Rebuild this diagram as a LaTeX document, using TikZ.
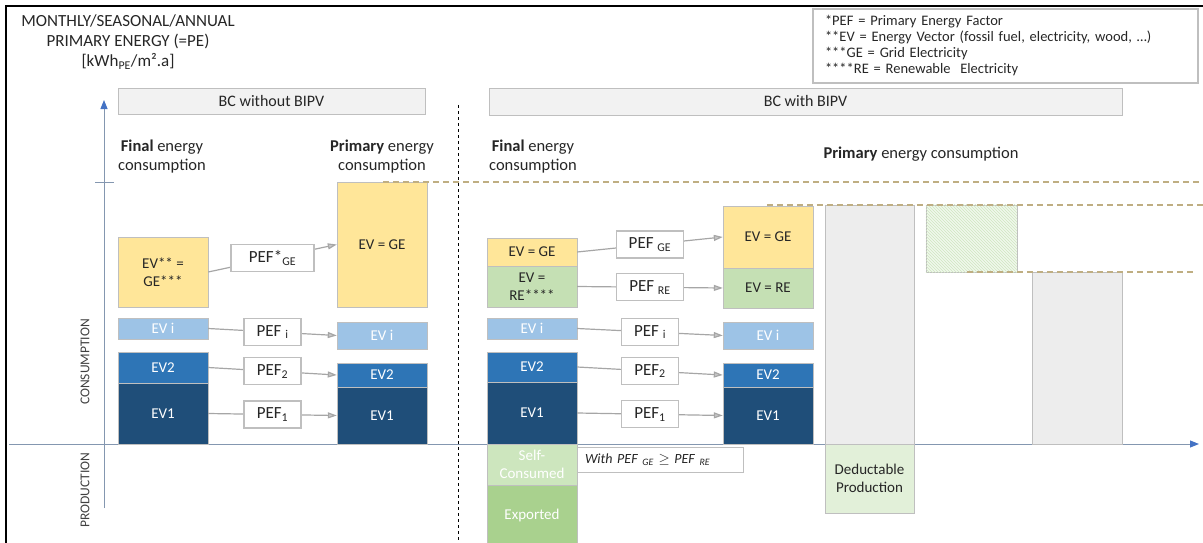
\documentclass[tikz,border=0pt]{standalone}
\usepackage{fontspec}
\setmainfont{Carlito}
\usetikzlibrary{arrows.meta,patterns}
\definecolor{evyellow}{HTML}{FFE699}
\definecolor{evgreen}{HTML}{C5E0B4}
\definecolor{evlight}{HTML}{9DC3E6}
\definecolor{evblue}{HTML}{2E75B6}
\definecolor{evdark}{HTML}{1F4E79}
\definecolor{selfgreen}{HTML}{CDE6BE}
\definecolor{expgreen}{HTML}{A9D18E}
\definecolor{dedgreen}{HTML}{E2F0D9}
\definecolor{bargray}{HTML}{EDEDED}
\definecolor{hdrgray}{HTML}{F2F2F2}
\definecolor{barline}{HTML}{BFBFBF}
\definecolor{flowgray}{HTML}{A6A6A6}
\definecolor{tipgray}{HTML}{C8C8C8}
\definecolor{refline}{HTML}{BFAE82}
\definecolor{axisgray}{HTML}{8497B0}
\definecolor{axisblue}{HTML}{4472C4}
\definecolor{txtdark}{HTML}{262626}

\begin{document}
\begin{tikzpicture}[x=1pt, y=-1pt, font=\fontsize{16.5}{19}\selectfont, text=txtdark,
  bar/.style={draw=barline, minimum width=90, inner sep=0, align=center, font=\fontsize{15}{18}\selectfont},
  pef/.style={draw=barline, fill=white, minimum height=27, inner sep=0, font=\fontsize{17}{20}\selectfont},
  flow/.style={draw=flowgray, line width=1.2, -{Triangle[length=9pt,width=6pt,fill=tipgray]}},
  hdr/.style={draw=barline, fill=hdrgray, inner sep=0, font=\fontsize{16}{19}\selectfont},
  graybar/.style={draw=barline, fill=bargray, inner sep=0},
  ref/.style={draw=refline, dash pattern=on 6pt off 4pt, line width=1.3},
  axis/.style={draw=axisgray, line width=1, -{Triangle[length=9pt,width=7pt,color=axisblue]}},
  side/.style={rotate=90, font=\fontsize{13.5}{16}\selectfont, text=black!75}]
  \useasboundingbox (0,0) rectangle (1203,543);
  \draw[line width=2] (6,543) -- (6,6) -- (1203,6);

  \node[align=center, font=\fontsize{17}{20}\selectfont] (title) at (128,42) {MONTHLY/SEASONAL/ANNUAL\\PRIMARY ENERGY (=PE)\\{}[kWh\textsubscript{PE}/m²{.}a]};
  \node[draw=barline, line width=1.2, minimum width=385, minimum height=74, text width=361, inner xsep=12, align=left,
    font=\fontsize{14.5}{16}\selectfont] (legend) at (1005.5,46)
    {*PEF = Primary Energy Factor\\{}**EV = Energy Vector (fossil fuel, electricity, wood, …)\\{}***GE = Grid Electricity\\{}****RE = Renewable\ \ Electricity};

  \node[hdr, minimum width=307, minimum height=26] (hdrA) at (271.5,101) {BC without BIPV};
  \node[hdr, minimum width=633, minimum height=27] (hdrB) at (805.5,101.5) {BC with BIPV};

  % axes
  \coordinate (o) at (104,508);
  \coordinate (ytop) at (104,100);
  \coordinate (xl) at (9,444);
  \coordinate (xr) at (1199,444);
  \coordinate (tl) at (95,182);
  \coordinate (tr) at (114,182);
  \draw[axis] (o) -- (ytop);
  \draw[axis] (xl) -- (xr);
  \draw[draw=axisgray] (tl) -- (tr);
  \node[side] (cons) at (85,362) {CONSUMPTION};
  \node[side] (prod) at (85,490) {PRODUCTION};

  \coordinate (sepT) at (458,105);
  \coordinate (sepB) at (458,543);
  \draw[dashed, line width=1] (sepT) -- (sepB);

  \node[align=center] (finA) at (162,157) {\textbf{Final} energy\\consumption};
  \node[align=center] (priA) at (382,157) {\textbf{Primary} energy\\consumption};
  \node[align=center] (finB) at (533,157) {\textbf{Final} energy\\consumption};
  \node (priB) at (921,154) {\textbf{Primary} energy consumption};

  % BC without BIPV
  \node[bar, fill=evyellow, minimum height=70] (fge) at (163,272) {EV** =\\GE***};
  \node[bar, fill=evlight, minimum height=21, text=white] (fi) at (163,328.5) {EV i};
  \node[bar, fill=evblue, minimum height=31, text=white] (f2) at (163,367.5) {EV2};
  \node[bar, fill=evdark, minimum height=61, text=white] (f1) at (163,413.5) {EV1};
  \node[bar, fill=evyellow, minimum height=125] (pge) at (382,244.5) {EV = GE};
  \node[bar, fill=evlight, minimum height=27, text=white] (pi) at (382,335.5) {EV i};
  \node[bar, fill=evblue, minimum height=24, text=white] (p2) at (382,375) {EV2};
  \node[bar, fill=evdark, minimum height=57, text=white] (p1) at (382,415.5) {EV1};

  \draw[flow] (fge.east) -- node[pef, minimum width=83] (pefge) {PEF*\textsubscript{GE}} (pge.west);
  \draw[flow] (fi.east) -- node[pef, minimum width=57] (pefi) {PEF \textsubscript{i}} (pi.west);
  \draw[flow] (f2.east) -- node[pef, minimum width=57] (pef2) {PEF\textsubscript{2}} (p2.west);
  \draw[flow] (f1.east) -- node[pef, minimum width=57] (pef1) {PEF\textsubscript{1}} (p1.west);

  % BC with BIPV
  \node[bar, fill=evyellow, minimum height=28] (rfge) at (532,252) {EV = GE};
  \node[bar, fill=evgreen, minimum height=41] (rfre) at (532,286.5) {EV =\\RE****};
  \node[bar, fill=evlight, minimum height=21, text=white] (rfi) at (532,328.5) {EV i};
  \node[bar, fill=evblue, minimum height=30, text=white] (rf2) at (532,367) {EV2};
  \node[bar, fill=evdark, minimum height=62, text=white] (rf1) at (532,413) {EV1};
  \node[bar, fill=evyellow, minimum height=62] (rpge) at (768,237) {EV = GE};
  \node[bar, fill=evgreen, minimum height=40] (rpre) at (768,288) {EV = RE};
  \node[bar, fill=evlight, minimum height=27, text=white] (rpi) at (768,335.5) {EV i};
  \node[bar, fill=evblue, minimum height=24, text=white] (rp2) at (768,375) {EV2};
  \node[bar, fill=evdark, minimum height=57, text=white] (rp1) at (768,415.5) {EV1};

  \draw[flow] (rfge.east) -- node[pef, minimum width=67] (rpefge) {PEF \textsubscript{GE}} (rpge.west);
  \draw[flow] (rfre.east) -- node[pef, minimum width=67] (rpefre) {PEF \textsubscript{RE}} (rpre.west);
  \draw[flow] (rfi.east) -- node[pef, minimum width=57] (rpefi) {PEF \textsubscript{i}} (rpi.west);
  \draw[flow] (rf2.east) -- node[pef, minimum width=57] (rpef2) {PEF\textsubscript{2}} (rp2.west);
  \draw[flow] (rf1.east) -- node[pef, minimum width=57] (rpef1) {PEF\textsubscript{1}} (rp1.west);

  % production
  \node[bar, fill=selfgreen, minimum height=41, text=white] (self) at (532,464.5) {Self-\\Consumed};
  \node[bar, fill=expgreen, minimum height=60, text=white] (exp) at (532,515) {Exported};
  \node[draw=barline, fill=white, minimum height=25, text width=150, inner xsep=8, inner ysep=0, align=left,
    font=\itshape\fontsize{14}{16}\selectfont] (cond) at (660,459.5)
    {With PEF \textsubscript{GE} $\geq$ PEF \textsubscript{RE}};

  \node[graybar, minimum width=89, minimum height=239] (ded1) at (869.5,324.5) {};
  \node[bar, fill=dedgreen, minimum width=89, minimum height=69] (ded) at (869.5,478.5) {Deductable\\Production};
  \node[draw=barline, fill=dedgreen!50, minimum width=91, minimum height=67] (gain) at (971.5,238.5) {};
  \fill[pattern=north west lines, pattern color=expgreen!55] (gain.north west) rectangle (gain.south east);
  \node[graybar, minimum width=90, minimum height=172] (net) at (1077,358) {};

  % reference levels
  \coordinate (lvA) at (383,182);
  \coordinate (lvAe) at (1203,182);
  \coordinate (lvB) at (767,205);
  \coordinate (lvBe) at (1203,205);
  \coordinate (lvC) at (967,272);
  \coordinate (lvCe) at (1195,272);
  \draw[ref] (lvA) -- (lvAe);
  \draw[ref] (lvB) -- (lvBe);
  \draw[ref] (lvC) -- (lvCe);
\end{tikzpicture}
\end{document}
